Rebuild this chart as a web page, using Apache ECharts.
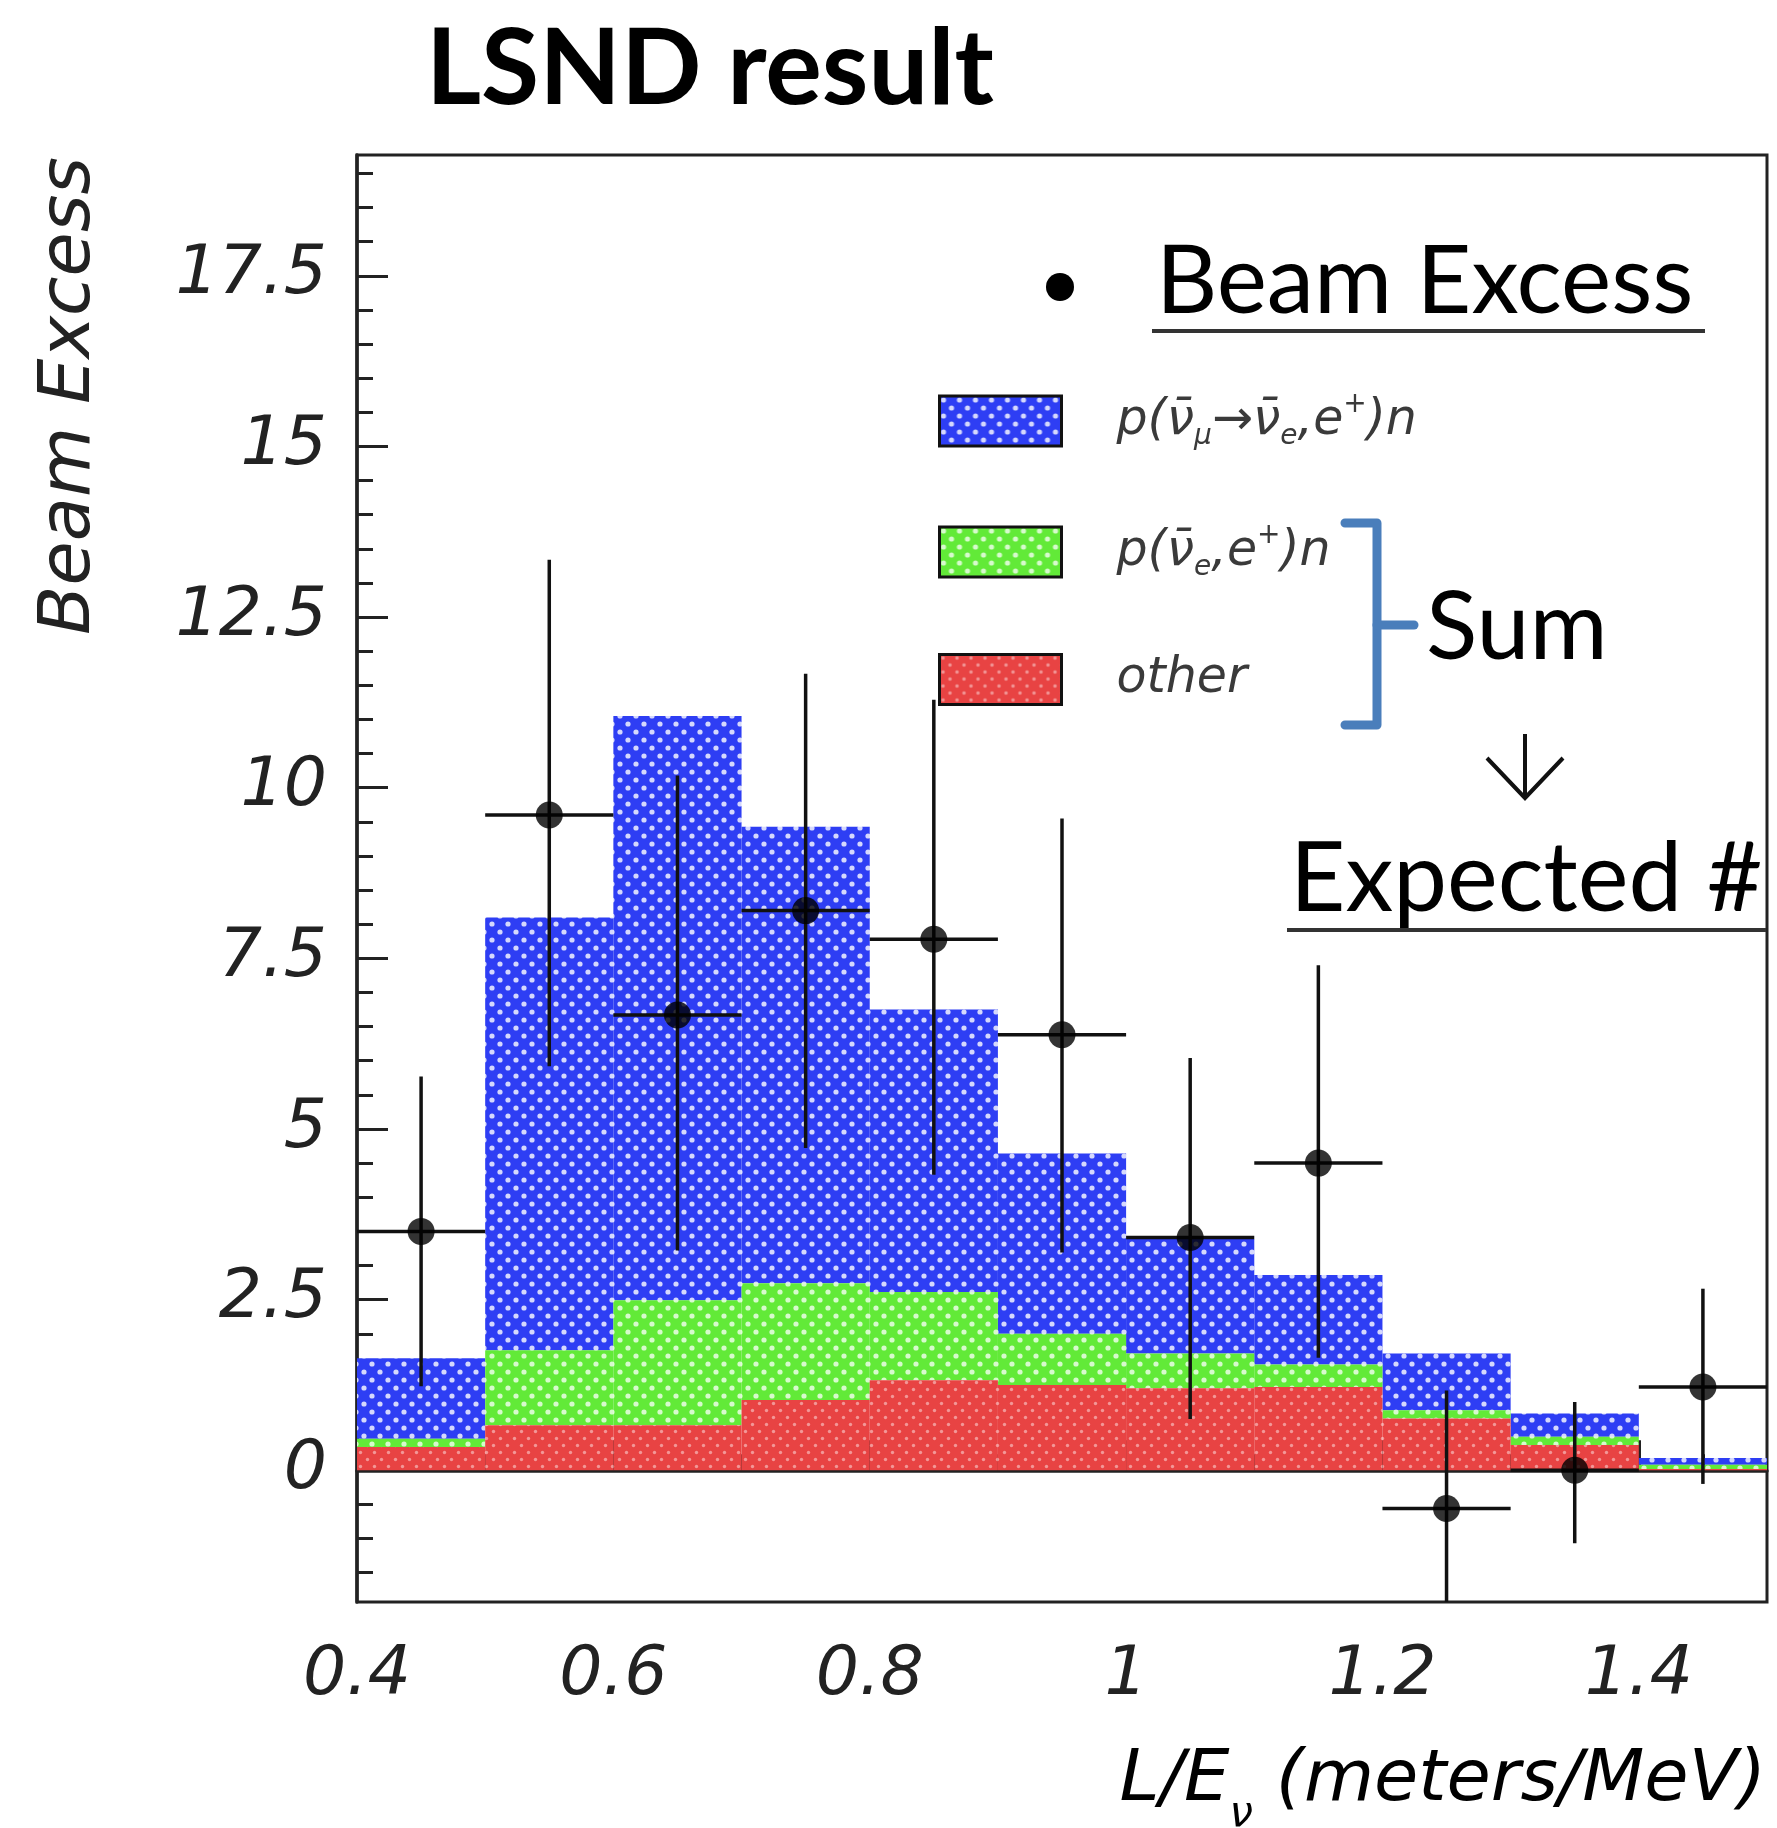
<!DOCTYPE html>
<html><head><meta charset="utf-8">
<script src="https://cdn.jsdelivr.net/npm/echarts@6/dist/echarts.min.js"></script>
<style>html,body{margin:0;padding:0;background:#fff}#c{width:1777px;height:1828px}</style>
</head><body><div id="c"></div>
<script>
// ---------- data ----------
const binStart   = [0.4, 0.5, 0.6, 0.7, 0.8, 0.9, 1.0, 1.1, 1.2, 1.3, 1.4];
const binWidth   = 0.1;
const otherBg    = [0.34, 0.66, 0.66, 1.03, 1.32, 1.25, 1.20, 1.22, 0.76, 0.37, 0.02];
const nueBg      = [0.12, 1.10, 1.83, 1.71, 1.29, 0.75, 0.51, 0.33, 0.12, 0.12, 0.06];
const oscSignal  = [1.18, 6.34, 8.56, 6.69, 4.14, 2.64, 1.68, 1.31, 0.83, 0.34, 0.10];
const excessX    = [0.45, 0.55, 0.65, 0.75, 0.85, 0.95, 1.05, 1.15, 1.25, 1.35, 1.45];
const excessY    = [3.50, 9.60, 6.67, 8.20, 7.78, 6.38, 3.41, 4.50, -0.56, 0.00, 1.22];
const errDown    = [2.27, 3.68, 3.45, 3.48, 3.45, 3.19, 2.66, 2.85, 1.75, 1.07, 1.42];
const errUp      = [2.27, 3.74, 3.51, 3.47, 3.51, 3.17, 2.63, 2.90, 1.73, 1.00, 1.44];
const xMajorTicks = [0.4, 0.6, 0.8, 1.0, 1.2, 1.4];
const xMinorTicks = [0.45, 0.5, 0.55, 0.65, 0.7, 0.75, 0.85, 0.9, 0.95, 1.05, 1.1, 1.15, 1.25, 1.3, 1.35, 1.45];
const yMajorTicks = [0, 2.5, 5, 7.5, 10, 12.5, 15, 17.5];
const yMinorTicks = [-1.5, -1, -0.5, 0.5, 1, 1.5, 2, 3, 3.5, 4, 4.5, 5.5, 6, 6.5, 7, 8, 8.5, 9, 9.5,
                     10.5, 11, 11.5, 12, 13, 13.5, 14, 14.5, 15.5, 16, 16.5, 17, 18, 18.5, 19];
const nameOsc   = 'osc';
const nameNue   = 'nue';
const nameOther = 'other';

// ---------- patterns ----------
function makeTile(bg, dot, w, h, pts, r) {
  const c = document.createElement('canvas');
  c.width = w; c.height = h;
  const g = c.getContext('2d');
  g.fillStyle = bg; g.fillRect(0, 0, w, h);
  g.fillStyle = dot;
  pts.forEach(p => { g.beginPath(); g.arc(p[0], p[1], r, 0, Math.PI * 2); g.fill(); });
  return { image: c, repeat: 'repeat' };
}
const patBlue  = makeTile('#2e3ef4', 'rgba(255,255,255,0.8)', 16, 16, [[4, 4], [12, 12]], 2.6);
const patGreen = makeTile('#62ea38', 'rgba(255,255,255,0.75)', 16, 16, [[4, 4], [12, 12]], 2.6);
const patRed   = makeTile('#e84343', 'rgba(255,255,255,0.45)', 14, 14, [[3.5, 3.5], [10.5, 10.5]], 1.7);

// ---------- helpers ----------
const greenBase = otherBg.slice();
const blueBase  = otherBg.map((v, i) => v + nueBg[i]);
function layer(name, base, h, pat) {
  return {
    name: name, type: 'custom', z: 2,
    itemStyle: { color: pat, borderColor: '#000', borderWidth: 3 },
    encode: { x: [0, 1], y: [2, 3] },
    data: binStart.map((x, i) => [x, x + binWidth, base[i], base[i] + h[i]]),
    renderItem: function (params, api) {
      const a = api.coord([api.value(0), api.value(3)]);
      const b = api.coord([api.value(1), api.value(2)]);
      return { type: 'rect', shape: { x: a[0], y: a[1], width: b[0] - a[0], height: b[1] - a[1] },
               style: { fill: pat } };
    }
  };
}

const chart = echarts.init(document.getElementById('c'), null, { renderer: 'canvas' });
const axisFont = { fontFamily: 'DejaVu Sans', fontStyle: 'italic', fontSize: 68, color: '#222' };
const legRich = {
  t: { fontFamily: 'DejaVu Sans', fontStyle: 'italic', fontSize: 49, color: '#3a3a3a', lineHeight: 60 },
  s: { fontFamily: 'DejaVu Sans', fontStyle: 'italic', fontSize: 28, color: '#3a3a3a', lineHeight: 28, verticalAlign: 'bottom' },
  p: { fontFamily: 'DejaVu Sans', fontStyle: 'italic', fontSize: 28, color: '#3a3a3a', lineHeight: 28, verticalAlign: 'top' }
};
const legText = {};
legText[nameOsc]   = '{t|p(ν\u0304}{s|μ}{t|→ν\u0304}{s|e}{t|,e}{p|+}{t|)n}';
legText[nameNue]   = '{t|p(ν\u0304}{s|e}{t|,e}{p|+}{t|)n}';
legText[nameOther] = '{t|other}';

chart.setOption({
  animation: false,
  backgroundColor: '#fff',
  grid: { left: 357, top: 155, width: 1410, height: 1447, show: true, borderColor: '#222', borderWidth: 3 },
  xAxis: [
    { type: 'value', min: 0.4, max: 1.5, position: 'bottom',
      axisLine: { show: true, lineStyle: { color: '#222', width: 3.5 } },
      axisTick: { show: true, inside: true, length: 30, customValues: xMajorTicks, lineStyle: { color: '#222', width: 3 } },
      axisLabel: Object.assign({ show: true, customValues: xMajorTicks, margin: 40 }, axisFont),
      splitLine: { show: false } },
    { type: 'value', min: 0.4, max: 1.5, position: 'bottom',
      axisLine: { show: false },
      axisTick: { show: true, inside: true, length: 16, customValues: xMinorTicks, lineStyle: { color: '#222', width: 3 } },
      axisLabel: { show: false }, splitLine: { show: false } }
  ],
  yAxis: [
    { type: 'value', min: -1.93, max: 19.27, position: 'left',
      axisLine: { show: true, lineStyle: { color: '#222', width: 3.5 } },
      axisTick: { show: true, inside: true, length: 31, customValues: yMajorTicks, lineStyle: { color: '#222', width: 3 } },
      axisLabel: Object.assign({ show: true, customValues: yMajorTicks, margin: 30 }, axisFont),
      splitLine: { show: false } },
    { type: 'value', min: -1.93, max: 19.27, position: 'left',
      axisLine: { show: false },
      axisTick: { show: true, inside: true, length: 16, customValues: yMinorTicks, lineStyle: { color: '#222', width: 3 } },
      axisLabel: { show: false }, splitLine: { show: false } }
  ],
  legend: {
    data: [nameOsc, nameNue, nameOther],
    orient: 'vertical', left: 933, top: 386,
    itemWidth: 122, itemHeight: 50, itemGap: 71, icon: 'rect',
    itemStyle: { borderColor: '#111', borderWidth: 3 },
    selectedMode: false,
    textStyle: { padding: [0, 0, 0, 50], rich: legRich },
    formatter: function (n) { return legText[n]; }
  },
  series: [
    layer(nameOsc, blueBase, oscSignal, patBlue),
    layer(nameNue, greenBase, nueBg, patGreen),
    layer(nameOther, otherBg.map(() => 0), otherBg, patRed),
    {
      name: 'Beam Excess errors', type: 'custom', z: 4, clip: true,
      encode: { x: 0, y: 1 },
      data: excessX.map((x, i) => [x, excessY[i], excessY[i] - errDown[i], excessY[i] + errUp[i], x - binWidth / 2, x + binWidth / 2]),
      renderItem: function (params, api) {
        const lo = api.coord([api.value(0), api.value(2)]);
        const hi = api.coord([api.value(0), api.value(3)]);
        const l = api.coord([api.value(4), api.value(1)]);
        const r = api.coord([api.value(5), api.value(1)]);
        const st = { stroke: '#111', lineWidth: 3.5 };
        return { type: 'group', children: [
          { type: 'line', shape: { x1: lo[0], y1: lo[1], x2: hi[0], y2: hi[1] }, style: st },
          { type: 'line', shape: { x1: l[0], y1: l[1], x2: r[0], y2: r[1] }, style: st }
        ] };
      }
    },
    {
      name: 'Beam Excess', type: 'scatter', z: 5, symbol: 'circle', symbolSize: 27,
      itemStyle: { color: '#000' },
      data: excessX.map((x, i) => [x, excessY[i]])
    }
  ],
  graphic: [
    { type: 'text', x: 426, y: 70, style: { text: 'LSND result', font: 'bold 106px Lato', fill: '#000', align: 'left', verticalAlign: 'middle' } },
    { type: 'text', x: 70, y: 396, rotation: Math.PI / 2,
      style: { text: 'Beam Excess', font: 'italic 72px "DejaVu Sans"', fill: '#222', align: 'center', verticalAlign: 'middle' } },
    { type: 'text', x: 1766, y: 1781,
      style: { text: '{a|L/E}{b|ν}{a| (meters/MeV)}', align: 'right', verticalAlign: 'middle',
        rich: { a: { fontFamily: 'DejaVu Sans', fontStyle: 'italic', fontSize: 72, color: '#222', lineHeight: 110 },
                b: { fontFamily: 'DejaVu Sans', fontStyle: 'italic', fontSize: 42, color: '#222', lineHeight: 40, verticalAlign: 'bottom' } } } },
    // Beam Excess annotation
    { type: 'circle', shape: { cx: 1060, cy: 287, r: 14 }, style: { fill: '#000' }, z: 10 },
    { type: 'text', x: 1156, y: 282, z: 10, style: { text: 'Beam Excess', font: '95px Lato', fill: '#000', align: 'left', verticalAlign: 'middle' } },
    { type: 'line', z: 10, shape: { x1: 1152, y1: 331, x2: 1705, y2: 331 }, style: { stroke: '#333', lineWidth: 4 } },
    // bracket
    { type: 'polyline', z: 10, shape: { points: [[1345, 523], [1377, 523], [1377, 725], [1345, 725]] },
      style: { stroke: '#4a7ebb', lineWidth: 9, fill: null, lineJoin: 'round', lineCap: 'round' } },
    { type: 'line', z: 10, shape: { x1: 1377, y1: 625, x2: 1414, y2: 625 },
      style: { stroke: '#4a7ebb', lineWidth: 9, lineCap: 'round' } },
    { type: 'text', x: 1426, y: 628, z: 10, style: { text: 'Sum', font: '95px Lato', fill: '#000', align: 'left', verticalAlign: 'middle' } },
    // arrow
    { type: 'line', z: 10, shape: { x1: 1525, y1: 734, x2: 1525, y2: 797 }, style: { stroke: '#111', lineWidth: 4 } },
    { type: 'polyline', z: 10, shape: { points: [[1487, 758], [1525, 798], [1563, 758]] }, style: { stroke: '#111', lineWidth: 4, fill: null } },
    { type: 'text', x: 1290, y: 880, z: 10, style: { text: 'Expected #', font: '96px Lato', fill: '#000', align: 'left', verticalAlign: 'middle' } },
    { type: 'line', z: 10, shape: { x1: 1287, y1: 930, x2: 1766, y2: 930 }, style: { stroke: '#333', lineWidth: 4 } }
  ]
});
</script>
</body></html>
